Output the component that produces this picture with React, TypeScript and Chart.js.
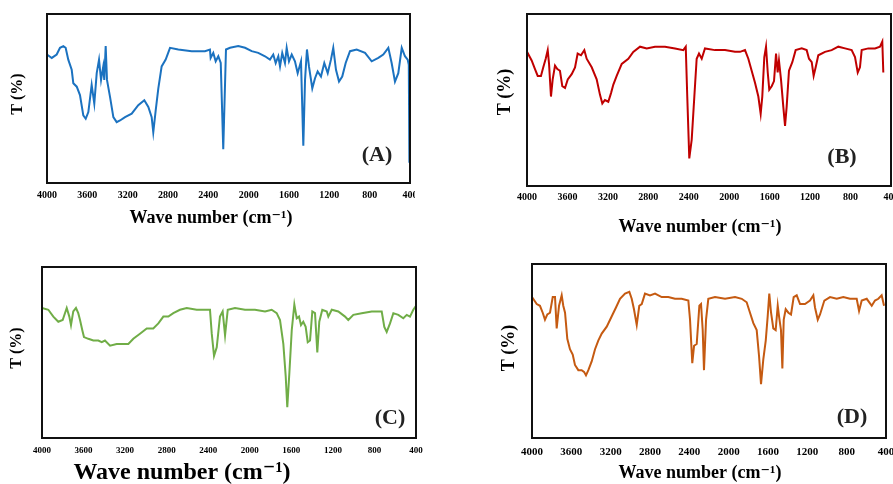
import React, { useEffect, useRef } from "react";
import { Chart, registerables } from "chart.js";

Chart.register(...registerables);

// ---------- DATA ----------
const X_MIN = 400;
const X_MAX = 4000;
const X_STEP = 400;

const waveA = [4000,3953,3904,3871,3838,3815,3789,3755,3739,3705,3673,3640,3616,3590,3557,3531,3507,3484,3464,3442,3432,3418,3405,3375,3342,3309,3276,3226,3160,3095,3035,2995,2962,2946,2922,2896,2863,2823,2780,2698,2565,2433,2384,2377,2351,2327,2301,2277,2252,2225,2185,2103,2036,1970,1905,1838,1789,1756,1732,1706,1689,1667,1640,1623,1600,1573,1541,1514,1481,1458,1441,1422,1402,1369,1342,1316,1283,1250,1216,1184,1161,1134,1104,1072,1038,995,929,846,780,714,665,615,582,549,516,482,450,423,412,406,400];
const transA = [76,74,76,80,81,80,73,67,59,57,52,40,38,42,58,47,65,73,61,69,61,81,61,51,39,36,37,39,41,46,49,45,39,30,43,56,69,73,80,79,78,78,79,74,77,72,75,71,20,79,80,81,80,78,77,75,73,76,71,75,69,77,71,80,72,76,72,65,72,22,61,79,69,56,62,66,63,71,65,73,80,67,60,63,71,78,79,77,72,74,76,80,71,60,65,80,75,73,70,12,60];

const waveB = [4000,3954,3921,3894,3862,3839,3815,3795,3782,3763,3746,3723,3700,3674,3651,3624,3597,3558,3525,3499,3466,3433,3410,3360,3311,3278,3255,3229,3196,3169,3146,3113,3063,2998,2949,2882,2816,2734,2635,2536,2454,2430,2415,2395,2371,2345,2322,2299,2272,2240,2141,2042,1943,1893,1844,1811,1778,1745,1712,1689,1673,1653,1636,1619,1604,1580,1557,1537,1521,1508,1488,1465,1448,1432,1409,1376,1343,1283,1234,1211,1184,1165,1145,1119,1053,987,921,855,789,756,729,707,690,625,558,509,486,476];
const transB = [78,73,68,64,64,69,74,79,71,52,62,70,68,67,58,57,62,65,69,77,76,79,74,69,62,53,48,50,49,54,59,64,71,74,78,81,80,81,81,80,79,81,52,16,27,52,74,77,74,80,79,79,78,78,79,74,67,60,52,42,52,75,81,66,56,58,61,77,66,73,62,46,35,46,67,72,79,80,79,74,72,64,69,76,78,79,81,80,79,75,66,69,79,80,80,81,84,66];

const waveC = [4000,3939,3891,3843,3801,3762,3737,3721,3699,3673,3651,3634,3612,3596,3554,3506,3458,3425,3394,3345,3281,3217,3169,3121,3057,2992,2929,2880,2832,2784,2736,2672,2607,2511,2415,2383,2366,2344,2318,2287,2261,2238,2212,2142,2046,1950,1853,1789,1741,1709,1677,1654,1639,1619,1596,1571,1548,1526,1507,1485,1462,1442,1420,1398,1372,1350,1331,1302,1259,1244,1211,1148,1083,1052,1003,923,826,730,705,682,650,618,570,522,489,458,426,403];
const transC = [76,75,71,68,69,76,71,66,74,76,73,69,63,59,58,57,57,56,57,54,55,55,55,58,61,64,64,67,71,71,73,75,76,75,75,75,61,48,53,71,74,60,75,76,75,75,74,75,73,69,55,36,18,38,63,78,70,71,66,68,65,56,57,74,73,50,68,75,74,71,75,74,71,69,72,73,74,74,65,62,67,73,72,70,72,71,75,77];

const waveD = [4000,3952,3919,3891,3868,3844,3817,3789,3766,3749,3725,3698,3682,3664,3641,3614,3586,3563,3529,3495,3471,3451,3427,3393,3359,3326,3291,3240,3189,3146,3105,3054,3010,2986,2963,2935,2909,2884,2851,2800,2749,2681,2614,2546,2478,2410,2393,2370,2352,2325,2298,2281,2264,2251,2230,2207,2139,2037,1935,1867,1817,1783,1749,1715,1691,1671,1648,1623,1603,1587,1569,1546,1522,1501,1488,1468,1454,1440,1420,1393,1366,1339,1308,1274,1224,1173,1139,1122,1094,1071,1027,969,901,834,766,698,674,647,596,545,512,478,444,420];
const transD = [81,77,76,72,68,71,72,81,81,63,76,82,76,72,57,51,48,42,39,39,38,36,39,44,51,56,60,64,70,75,80,83,84,80,74,65,76,77,83,82,83,81,81,80,80,79,68,43,53,54,76,77,62,39,68,80,81,80,81,80,78,72,66,62,47,31,45,56,70,83,72,63,62,76,70,62,40,68,74,72,71,81,82,77,77,79,82,75,68,71,79,81,80,81,80,80,73,79,80,76,79,80,82,76];

const X_TITLE = "Wave number (cm\u207B\u00B9)";
const Y_TITLE = "T (%)";

// ---------- LAYOUT / STYLE ----------
const SERIF = '"Liberation Serif", "DejaVu Serif", "Times New Roman", serif';

type Panel = {
  label: string;
  wave: number[];
  trans: number[];
  color: string;
  left: number; top: number; width: number; height: number;
  padTop: number; padRight: number;
  yWidth: number; xHeight: number;
  tickSize: number; tickPad: number;
  xTitleSize: number; xTitleCx: number; xTitleCy: number;
  yTitleSize: number; yTitleCx: number; yTitleCy: number;
  labelDx: number; labelDy: number;
};

const panels: Panel[] = [
  { label: "(A)", wave: waveA, trans: transA, color: "#1B72C0",
    left: 0, top: 0, width: 415, height: 229, padTop: 14, padRight: 5,
    yWidth: 47, xHeight: 46, tickSize: 10, tickPad: 6,
    xTitleSize: 18, xTitleCx: 211, xTitleCy: 218,
    yTitleSize: 16, yTitleCx: 18, yTitleCy: 94,
    labelDx: 33, labelDy: 28 },
  { label: "(B)", wave: waveB, trans: transB, color: "#C00000",
    left: 470, top: 0, width: 423, height: 238, padTop: 14, padRight: 2,
    yWidth: 57, xHeight: 52, tickSize: 10, tickPad: 5,
    xTitleSize: 18, xTitleCx: 700, xTitleCy: 227,
    yTitleSize: 18, yTitleCx: 505, yTitleCy: 92,
    labelDx: 49, labelDy: 29 },
  { label: "(C)", wave: waveC, trans: transC, color: "#70AD47",
    left: 0, top: 250, width: 430, height: 234, padTop: 17, padRight: 14,
    yWidth: 42, xHeight: 46, tickSize: 9, tickPad: 7.5,
    xTitleSize: 24, xTitleCx: 182, xTitleCy: 473,
    yTitleSize: 16, yTitleCx: 17, yTitleCy: 348,
    labelDx: 26, labelDy: 20 },
  { label: "(D)", wave: waveD, trans: transD, color: "#C55A11",
    left: 470, top: 250, width: 423, height: 234, padTop: 14, padRight: 7,
    yWidth: 62, xHeight: 46, tickSize: 11, tickPad: 7.4,
    xTitleSize: 18, xTitleCx: 700, xTitleCy: 473,
    yTitleSize: 18, yTitleCx: 509, yTitleCy: 348,
    labelDx: 34, labelDy: 21 },
];

function SpectrumPanel({ p }: { p: Panel }) {
  const ref = useRef<HTMLCanvasElement | null>(null);

  useEffect(() => {
    if (!ref.current) return;
    const framePlugin = {
      id: "frame",
      afterDatasetsDraw(chart: any) {
        const { ctx, chartArea } = chart;
        ctx.save();
        ctx.strokeStyle = "#111";
        ctx.lineWidth = 2;
        ctx.strokeRect(chartArea.left, chartArea.top, chartArea.right - chartArea.left, chartArea.bottom - chartArea.top);
        ctx.fillStyle = "#222";
        ctx.font = `bold 22px ${SERIF}`;
        ctx.textAlign = "center";
        ctx.textBaseline = "middle";
        ctx.fillText(p.label, chartArea.right - p.labelDx, chartArea.bottom - p.labelDy);
        // axis titles
        ctx.fillStyle = "#000";
        ctx.font = `bold ${p.xTitleSize}px ${SERIF}`;
        ctx.fillText(X_TITLE, p.xTitleCx - p.left, p.xTitleCy - p.top);
        ctx.translate(p.yTitleCx - p.left, p.yTitleCy - p.top);
        ctx.rotate(-Math.PI / 2);
        ctx.font = `bold ${p.yTitleSize}px ${SERIF}`;
        ctx.fillText(Y_TITLE, 0, 0);
        ctx.restore();
      },
    };

    const chart = new Chart(ref.current, {
      type: "line",
      data: {
        datasets: [
          {
            data: p.wave.map((w, i) => ({ x: w, y: p.trans[i] })),
            borderColor: p.color,
            borderWidth: 2,
            pointRadius: 0,
            tension: 0,
            fill: false,
          },
        ],
      },
      options: {
        responsive: false,
        maintainAspectRatio: false,
        animation: false,
        layout: { padding: { top: p.padTop, right: p.padRight, bottom: 0, left: 0 } },
        plugins: { legend: { display: false }, tooltip: { enabled: false } },
        scales: {
          x: {
            type: "linear",
            reverse: true,
            min: X_MIN,
            max: X_MAX,
            ticks: {
              stepSize: X_STEP,
              autoSkip: false,
              maxRotation: 0,
              padding: p.tickPad,
              color: "#000",
              font: { family: SERIF, size: p.tickSize, weight: "bold" },
              callback: (v: any) => String(v),
            },
            grid: { display: false, drawTicks: false },
            border: { display: false },
            title: { display: false },
            afterFit: (s: any) => {
              s.height = p.xHeight;
              s.paddingLeft = 0;
              s.paddingRight = 0;
            },
          },
          y: {
            min: 0,
            max: 100,
            ticks: { display: false },
            grid: { display: false, drawTicks: false },
            border: { display: false },
            title: { display: false },
            afterFit: (s: any) => {
              s.width = p.yWidth;
            },
          },
        },
      } as any,
      plugins: [framePlugin],
    });
    return () => chart.destroy();
  }, [p]);

  return (
    <canvas
      ref={ref}
      width={p.width}
      height={p.height}
      style={{ position: "absolute", left: p.left, top: p.top, width: p.width, height: p.height }}
    />
  );
}

export default function App() {
  return (
    <div style={{ position: "fixed", left: 0, top: 0, width: 893, height: 484, background: "#fff", overflow: "hidden" }}>
      {panels.map((p) => (
        <SpectrumPanel key={p.label} p={p} />
      ))}
    </div>
  );
}
